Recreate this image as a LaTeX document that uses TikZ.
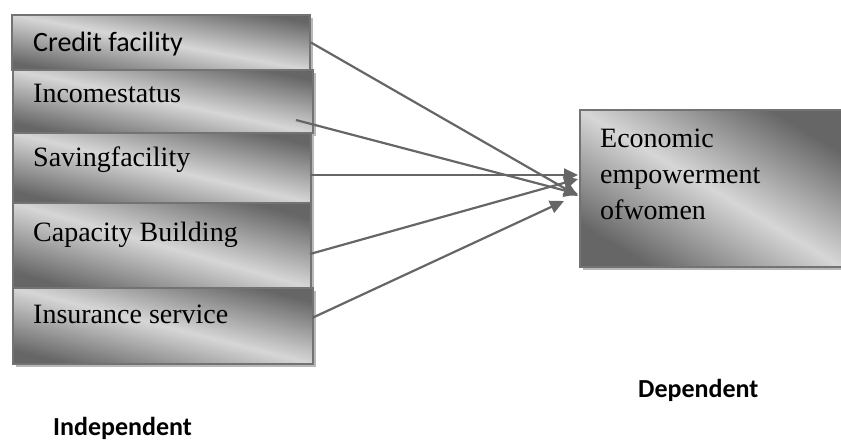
\documentclass[tikz,border=0pt]{standalone}
\usepackage{fontspec}
\setmainfont{Liberation Serif}
\newfontfamily\calibri{Carlito}
\usepackage{tikz}
\usetikzlibrary{arrows.meta,shadows}
\definecolor{boxline}{gray}{0.45}
\definecolor{boxdark}{gray}{0.40}
\definecolor{boxlight}{gray}{0.84}
\definecolor{arrowgray}{gray}{0.40}
\tikzset{
  font={\fontsize{28pt}{36pt}\selectfont},
  varbox/.style={draw=boxline, line width=1.8pt, anchor=north west,
    top color=boxdark, bottom color=boxdark, middle color=boxlight,
    shading angle=#1,
    drop shadow={shadow xshift=3pt, shadow yshift=-3pt, fill=black!28, opacity=1}},
  boxtext/.style={anchor=base west, align=left},
  calitext/.style={anchor=base west, font={\calibri\fontsize{28pt}{36pt}\selectfont}},
  headtext/.style={anchor=base west, font={\calibri\bfseries\fontsize{26pt}{30pt}\selectfont}},
  link/.style={draw=arrowgray, line width=2.2pt, -{Triangle[length=14pt,width=13pt]}}}

\begin{document}
\begin{tikzpicture}[x=1pt,y=-1pt]
\tikzstyle{every node}+=[inner sep=0pt]
\useasboundingbox (0,0) rectangle (841,441);
% independent variables
\node [varbox=-10.5, minimum width=298pt, minimum height=55pt] (credit) at (11,14) {};
\node [varbox=-11.9, minimum width=300pt, minimum height=63pt] (income) at (12,69) {};
\node [varbox=-13.2, minimum width=298pt, minimum height=70pt] (saving) at (12,132) {};
\node [varbox=-15.9, minimum width=298pt, minimum height=85pt] (capacity) at (12,202) {};
\node [varbox=-14.2, minimum width=300pt, minimum height=76pt] (insurance) at (12,287) {};
\node [calitext] (creditlbl) at (33,52) {Credit facility};
\node [boxtext] (incomelbl) at (33,103) {Incomestatus};
\node [boxtext] (savinglbl) at (33,167) {Savingfacility};
\node [boxtext] (capacitylbl) at (33,241) {Capacity Building};
\node [boxtext] (insurancelbl) at (33,323) {Insurance service};
% dependent variable
\node [varbox=-30.9, minimum width=262pt, minimum height=157pt] (empower) at (579,109) {};
\node [boxtext, anchor=north west] (empowerlbl) at (600,129) {Economic\\empowerment\\ofwomen};
% connectors
\coordinate (incomeout) at (296,120);
\coordinate (savingout) at (310,175);
\coordinate (capacityout) at (310,254);
\coordinate (insuranceout) at (312,318);
\coordinate (tipsaving) at (578,175);
\coordinate (tipcapacity) at (578,179);
\coordinate (tipincome) at (578,194);
\coordinate (tipcredit) at (578,196);
\coordinate (tipinsurance) at (564,201);
\draw [link] (credit.east) -- (tipcredit);
\draw [link] (incomeout) -- (tipincome);
\draw [link] (savingout) -- (tipsaving);
\draw [link] (capacityout) -- (tipcapacity);
\draw [link] (insuranceout) -- (tipinsurance);
% captions
\node [headtext] (deplbl) at (638,397) {Dependent};
\node [headtext] (indeplbl) at (53,435) {Independent};
\end{tikzpicture}
\end{document}
